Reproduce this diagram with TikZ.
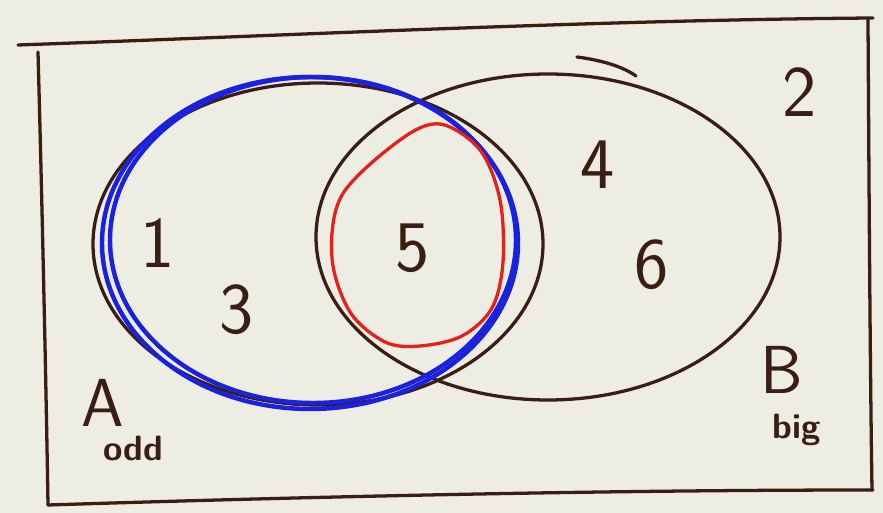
\documentclass[tikz,border=0pt]{standalone}
\usepackage{fontspec}
\definecolor{paper}{HTML}{EDEDE3}
\definecolor{ink}{HTML}{3A1E14}
\definecolor{penblue}{HTML}{1A22E0}
\definecolor{penred}{HTML}{E8201C}
\begin{document}
\begin{tikzpicture}[x=0.03cm,y=-0.03cm,
  inkline/.style={draw=ink,line width=2.8pt,line cap=round,line join=round},
  blueline/.style={draw=penblue,line width=3.8pt,line cap=round},
  redline/.style={draw=penred,line width=2.8pt,line join=round},
  digit/.style={text=ink,font=\sffamily\fontsize{62}{62}\selectfont,inner sep=0pt},
  lab/.style={text=ink,font=\sffamily\fontsize{58}{58}\selectfont,inner sep=0pt},
  sub/.style={text=ink,font=\sffamily\bfseries\fontsize{30}{30}\selectfont,inner sep=0pt}]
\fill[paper] (0,0) rectangle (883,513);
\useasboundingbox (0,0) rectangle (883,513);
% universe rectangle
\draw[inkline] (18,45) .. controls (300,35) and (600,20) .. (873,18);
\draw[inkline] (38,52) .. controls (42,200) and (46,380) .. (48,505);
\draw[inkline] (48,505) .. controls (300,497) and (600,490) .. (873,490);
\draw[inkline] (868,20) .. controls (869,180) and (870,360) .. (872,490);
% set B
\draw[inkline] (548,237) ellipse [x radius=232, y radius=163];
\draw[inkline] (577,57) .. controls (600,60) and (622,66) .. (636,76);
% set A
\draw[inkline] (318,244) ellipse [x radius=225, y radius=161];
% blue loop
\draw[blueline] (310,243) ellipse [x radius=208, y radius=166];
\draw[blueline] (313,240) ellipse [x radius=203, y radius=163];
% red loop
\draw[redline] plot[smooth cycle,tension=0.55] coordinates {
  (440,124) (480,150) (500,200) (503,262) (492,308) (462,336) (420,346)
  (385,342) (350,312) (332,258) (342,195) (400,140)};
% elements
\node[digit] (n1) at (158,243) {1};
\node[digit] (n3) at (237,310) {3};
\node[digit] (n5) at (413,248) {5};
\node[digit] (n4) at (598,165) {4};
\node[digit] (n6) at (652,265) {6};
\node[digit] (n2) at (800,92) {2};
% labels
\node[lab] (la) at (103,403) {A};
\node[sub] (lodd) at (133,448) {odd};
\node[lab] (lb) at (782,370) {B};
\node[sub] (lbig) at (797,430) {big};
\end{tikzpicture}
\end{document}
